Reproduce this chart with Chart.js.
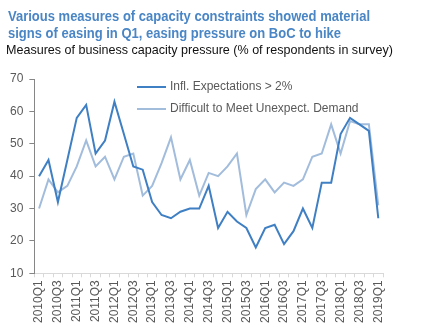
<!DOCTYPE html>
<html>
<head>
<meta charset="utf-8">
<script src="https://cdn.jsdelivr.net/npm/chart.js@4"></script>
<style>
  html, body { margin: 0; padding: 0; background: #fff; }
</style>
</head>
<body>
<canvas id="capacityChart" width="444" height="333"></canvas>
<script>
const quarters = [
  '2010Q1','2010Q2','2010Q3','2010Q4','2011Q1','2011Q2','2011Q3','2011Q4',
  '2012Q1','2012Q2','2012Q3','2012Q4','2013Q1','2013Q2','2013Q3','2013Q4',
  '2014Q1','2014Q2','2014Q3','2014Q4','2015Q1','2015Q2','2015Q3','2015Q4',
  '2016Q1','2016Q2','2016Q3','2016Q4','2017Q1','2017Q2','2017Q3','2017Q4',
  '2018Q1','2018Q2','2018Q3','2018Q4','2019Q1'
];
const inflExpectations = [40,45,32,45,58,62,47,51,63,53,43,42,32,28,27,29,30,30,37,24,29,26,24,18,24,25,19,23,30,24,38,38,53,58,56,54,27];
const unexpectedDemand = [30,39,35,37,43,51,43,46,39,46,47,34,37,44,52,39,45,34,41,40,43,47,28,36,39,35,38,37,39,46,47,56,47,57,56,56,31];
const seriesNames = ['Infl. Expectations > 2%', 'Difficult to Meet Unexpect. Demand'];
const titleLines = ['Various measures of capacity constraints showed material', 'signs of easing in Q1, easing pressure on BoC to hike'];
const subtitleText = 'Measures of business capacity pressure (% of respondents in survey)';

const fontFamily = '"Liberation Sans", Arial, sans-serif';

// title block drawn by hand so the plot's right margin doesn't squeeze it
// (the original uses a narrow-ish face, so cap the widths)
const headerText = {
  id: 'headerText',
  afterDraw(chart) {
    const ctx = chart.ctx;
    ctx.save();
    ctx.textBaseline = 'alphabetic';
    ctx.fillStyle = '#4a86c5';
    ctx.font = 'bold 15px ' + fontFamily;
    const w1 = ctx.measureText(titleLines[0]).width;
    const squeeze = Math.min(1, 362 / w1);
    ctx.fillText(titleLines[0], 8, 21, w1 * squeeze);
    ctx.fillText(titleLines[1], 8, 37.5, ctx.measureText(titleLines[1]).width * squeeze);
    ctx.fillStyle = '#111';
    ctx.font = '13.5px ' + fontFamily;
    ctx.fillText(subtitleText, 6, 53.5, 387);
    ctx.restore();
  }
};

// legend drawn inside the plot, like the original
const insideLegend = {
  id: 'insideLegend',
  afterDatasetsDraw(chart) {
    const ctx = chart.ctx;
    ctx.save();
    ctx.font = '12px ' + fontFamily;
    ctx.textBaseline = 'middle';
    chart.data.datasets.forEach((ds, i) => {
      const y = 87 + i * 22;
      ctx.strokeStyle = ds.borderColor;
      ctx.lineWidth = 2;
      ctx.beginPath();
      ctx.moveTo(137, y);
      ctx.lineTo(166, y);
      ctx.stroke();
      ctx.fillStyle = '#595959';
      ctx.fillText(ds.label, 170, y);
    });
    ctx.restore();
  }
};

const ctx = document.getElementById('capacityChart').getContext('2d');
const capacityChart = new Chart(ctx, {
  type: 'line',
  data: {
    labels: quarters,
    datasets: [{
      label: seriesNames[0],
      data: inflExpectations,
      borderColor: '#3f7fc3',
      borderWidth: 2,
      pointRadius: 0,
      tension: 0
    }, {
      label: seriesNames[1],
      data: unexpectedDemand,
      borderColor: '#a2bcdc',
      borderWidth: 2,
      pointRadius: 0,
      tension: 0
    }]
  },
  options: {
    responsive: false,
    animation: false,
    layout: { padding: { left: 4, right: 61, top: 79, bottom: 7 } },
    plugins: {
      legend: { display: false },
      tooltip: { enabled: false }
    },
    scales: {
      x: {
        offset: true,
        grid: {
          display: true,
          offset: true,
          drawOnChartArea: false,
          drawTicks: true,
          tickLength: 4,
          color: '#d9d9d9'
        },
        border: { color: '#d9d9d9', width: 1 },
        ticks: {
          autoSkip: false,
          maxRotation: 90,
          minRotation: 90,
          color: '#595959',
          font: { family: fontFamily, size: 12 },
          callback: function(value, index) {
            return index % 2 === 0 ? this.getLabelForValue(value) : '';
          }
        }
      },
      y: {
        min: 10,
        max: 70,
        ticks: {
          stepSize: 10,
          color: '#595959',
          padding: 6,
          font: { family: fontFamily, size: 12 }
        },
        grid: {
          display: true,
          drawOnChartArea: false,
          drawTicks: true,
          tickLength: 5,
          color: '#868686'
        },
        border: { color: '#868686', width: 1 }
      }
    }
  },
  plugins: [headerText, insideLegend]
});
</script>
</body>
</html>
